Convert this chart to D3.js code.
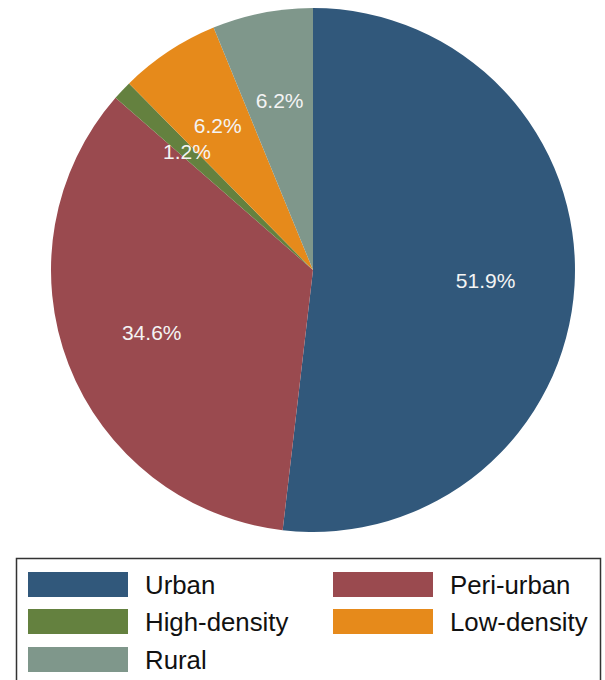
<!DOCTYPE html>
<html>
<head>
<meta charset="utf-8">
<script src="https://cdn.jsdelivr.net/npm/d3@7"></script>
<style>
  body { margin: 0; background: #fff; }
  svg { display: block; font-family: "Liberation Sans", Arial, sans-serif; }
</style>
</head>
<body>
<div id="chart"></div>
<script>
// data
const categories = ["Urban", "Peri-urban", "High-density", "Low-density", "Rural"];
const shares = [51.9, 34.6, 1.2, 6.2, 6.2];
const colors = ["#31587b", "#9a4a4f", "#64813f", "#e68a1b", "#7f978b"];

const width = 605;
const height = 680;
const cx = 313, cy = 270, radius = 262;

const svg = d3.select("#chart")
    .append("svg")
    .attr("width", width)
    .attr("height", height);

const slices = categories.map((c, i) => ({ name: c, value: shares[i], color: colors[i] }));

const pie = d3.pie()
    .value(d => d.value)
    .sort(null);

const arc = d3.arc()
    .innerRadius(0)
    .outerRadius(radius);

const labelArc = d3.arc()
    .innerRadius(radius * 0.66)
    .outerRadius(radius * 0.66);

const g = svg.append("g")
    .attr("transform", `translate(${cx},${cy})`);

const arcs = pie(slices);

g.selectAll("path")
    .data(arcs)
    .enter().append("path")
    .attr("d", arc)
    .attr("fill", d => d.data.color);

g.selectAll("text")
    .data(arcs)
    .enter().append("text")
    .attr("transform", d => `translate(${labelArc.centroid(d)})`)
    .attr("text-anchor", "middle")
    .attr("dy", "0.36em")
    .attr("fill", "#f4f4f4")
    .style("font-size", "21px")
    .text(d => d.data.value.toFixed(1) + "%");

// legend
const legend = svg.append("g");

legend.append("rect")
    .attr("x", 16.5)
    .attr("y", 558.5)
    .attr("width", 584)
    .attr("height", 140)
    .attr("fill", "none")
    .attr("stroke", "#333")
    .attr("stroke-width", 1.5);

const colX = [28, 333];
const rowY = [572, 609, 647];

const items = legend.selectAll("g.item")
    .data(slices)
    .enter().append("g")
    .attr("class", "item")
    .attr("transform", (d, i) => `translate(${colX[i % 2]},${rowY[Math.floor(i / 2)]})`);

items.append("rect")
    .attr("width", 100)
    .attr("height", 25)
    .attr("fill", d => d.color);

items.append("text")
    .attr("x", 117)
    .attr("y", 22)
    .attr("fill", "#111")
    .style("font-size", "25.8px")
    .text(d => d.name);
</script>
</body>
</html>
